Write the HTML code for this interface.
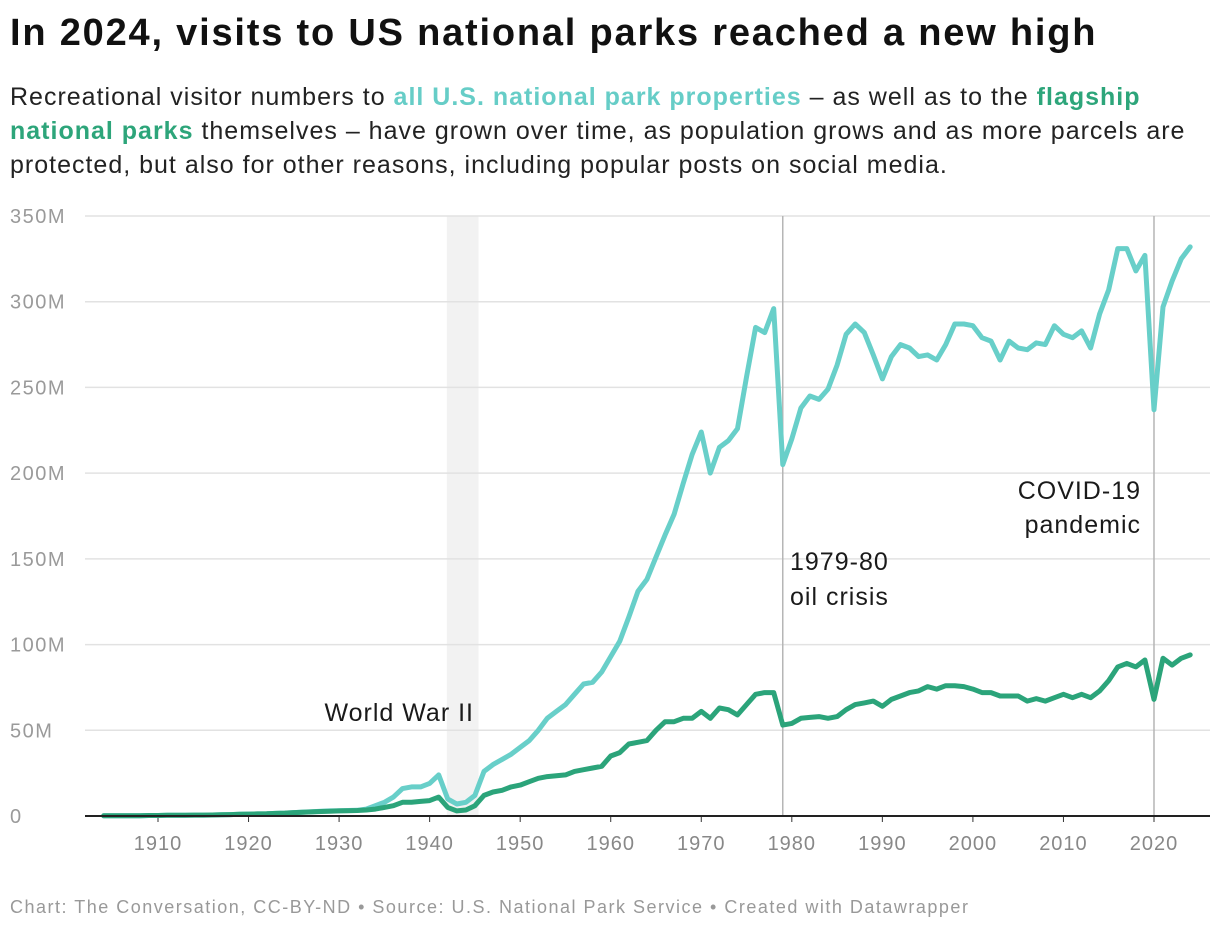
<!DOCTYPE html>
<html><head><meta charset="utf-8"><style>
body{margin:0;width:1220px;height:932px;background:#fff;font-family:"Liberation Sans",sans-serif;overflow:hidden;position:relative}
h1{position:absolute;left:10px;top:12px;margin:0;font-size:38px;font-weight:bold;color:#111;letter-spacing:1.8px;white-space:nowrap}
.sub{position:absolute;left:10px;top:80px;width:1210px;font-size:25px;line-height:34px;color:#222;letter-spacing:1px}
.foot{position:absolute;left:10px;top:897px;font-size:18px;color:#999;letter-spacing:1.5px;white-space:nowrap}
svg{position:absolute;left:0;top:0}
</style></head><body>
<h1>In 2024, visits to US national parks reached a new high</h1>
<div class="sub">Recreational visitor numbers to <b style="color:#66cdc7">all U.S. national park properties</b> – as well as to the <b style="color:#2da57a">flagship national parks</b> themselves – have grown over time, as population grows and as more parcels are protected, but also for other reasons, including popular posts on social media.</div>
<svg id="c" width="1220" height="932"></svg>
<div class="foot">Chart: The Conversation, CC-BY-ND • Source: U.S. National Park Service • Created with Datawrapper</div>
<script>
const startYear = 1904;
const allParks = [0.1,0.1,0.1,0.2,0.2,0.3,0.3,0.4,0.4,0.4,0.5,0.5,0.6,0.7,0.8,1.0,1.1,1.2,1.3,1.5,1.7,2.0,2.3,2.5,2.8,3.0,3.1,3.2,3.3,4,6,8,11,16,17,17,19,24,10,7,8,12,26,30,33,36,40,44,50,57,61,65,71,77,78,84,93,102,116,131,138,151,164,176,194,211,224,200,215,219,226,256,285,282,296,205,220,238,245,243,249,263,281,287,282,269,255,268,275,273,268,269,266,275,287,287,286,279,277,266,277,273,272,276,275,286,281,279,283,273,293,307,331,331,318,327,237,297,312,325,332];
const flagship = [0.1,0.1,0.1,0.2,0.2,0.3,0.3,0.4,0.4,0.4,0.5,0.5,0.6,0.7,0.8,1.0,1.1,1.2,1.3,1.5,1.7,2.0,2.2,2.4,2.6,2.8,3.0,3.1,3.2,3.5,4,5,6,8,8,8.5,9,11,5,3,3.5,6,12,14,15,17,18,20,22,23,23.5,24,26,27,28,29,35,37,42,43,44,50,55,55,57,57,61,57,63,62,59,65,71,72,72,53,54,57,57.5,58,57,58,62,65,66,67,64,68,70,72,73,75.5,74,76,76,75.5,74,72,72,70,70,70,67,68.5,67,69,71,69,71,69,73,79,87,89,87,91,68,92,88,92,94];
const yTicks = [0,50,100,150,200,250,300,350];
const yTickLabels = ["0","50M","100M","150M","200M","250M","300M","350M"];
const xTicks = [1910,1920,1930,1940,1950,1960,1970,1980,1990,2000,2010,2020];
const NS="http://www.w3.org/2000/svg";
const svg=document.getElementById('c');
const X=y=>158+(y-1910)*9.0545;
const Y=v=>816-v*1.7143;
function mk(t,a){const e=document.createElementNS(NS,t);for(const k in a)e.setAttribute(k,a[k]);svg.appendChild(e);return e;}
let band=mk('rect',{x:X(1941.9),y:Y(350),width:X(1945.4)-X(1941.9),height:Y(0)-Y(350),fill:'#f2f2f2'});


yTicks.forEach((v,i)=>{
 if(v>0){let g=mk('line',{x1:85,x2:1210,y1:Y(v),y2:Y(v),stroke:'#e2e2e2','stroke-width':1.5});
 
 }
 let t=mk('text',{x:10,y:Y(v)+7,'font-size':20,fill:'#9a9a9a','letter-spacing':1.5});t.textContent=yTickLabels[i];
 
 
});
[1979,2020].forEach(yr=>{let l=mk('line',{x1:X(yr),x2:X(yr),y1:Y(350),y2:Y(0),stroke:'#b5b5b5','stroke-width':1.5});
 
 });
xTicks.forEach(yr=>{let t=mk('text',{x:X(yr),y:850,'font-size':20,fill:'#888','text-anchor':'middle','letter-spacing':1});t.textContent=yr;
 
 
 let k=mk('line',{x1:X(yr),x2:X(yr),y1:816,y2:822,stroke:'#333','stroke-width':1});
 
 });
function line(data,color,name){
 const d=data.map((v,i)=>(i?'L':'M')+X(startYear+i).toFixed(1)+','+Y(v).toFixed(1)).join('');
 let p=mk('path',{d:d,fill:'none',stroke:color,'stroke-width':5,'stroke-linejoin':'round','stroke-linecap':'round'});
 
 
}
line(allParks,'#68cfc9','all-properties-line');
line(flagship,'#2ba47a','flagship-parks-line');
let ax=mk('line',{x1:85,x2:1210,y1:816,y2:816,stroke:'#222','stroke-width':2});


function lab(x,y,txt,anchor,name){let t=mk('text',{x:x,y:y,'font-size':25,fill:'#1a1a1a','text-anchor':anchor,'letter-spacing':1});t.textContent=txt;
 
 }
lab(474,721,'World War II','end','wwii-annotation');
lab(790,570,'1979-80','start','oil-crisis-annotation');
lab(790,605,'oil crisis','start','oil-crisis-annotation-line2');
lab(1141,499,'COVID-19','end','covid-annotation');
lab(1141,533,'pandemic','end','covid-annotation-line2');
</script>
</body></html>
